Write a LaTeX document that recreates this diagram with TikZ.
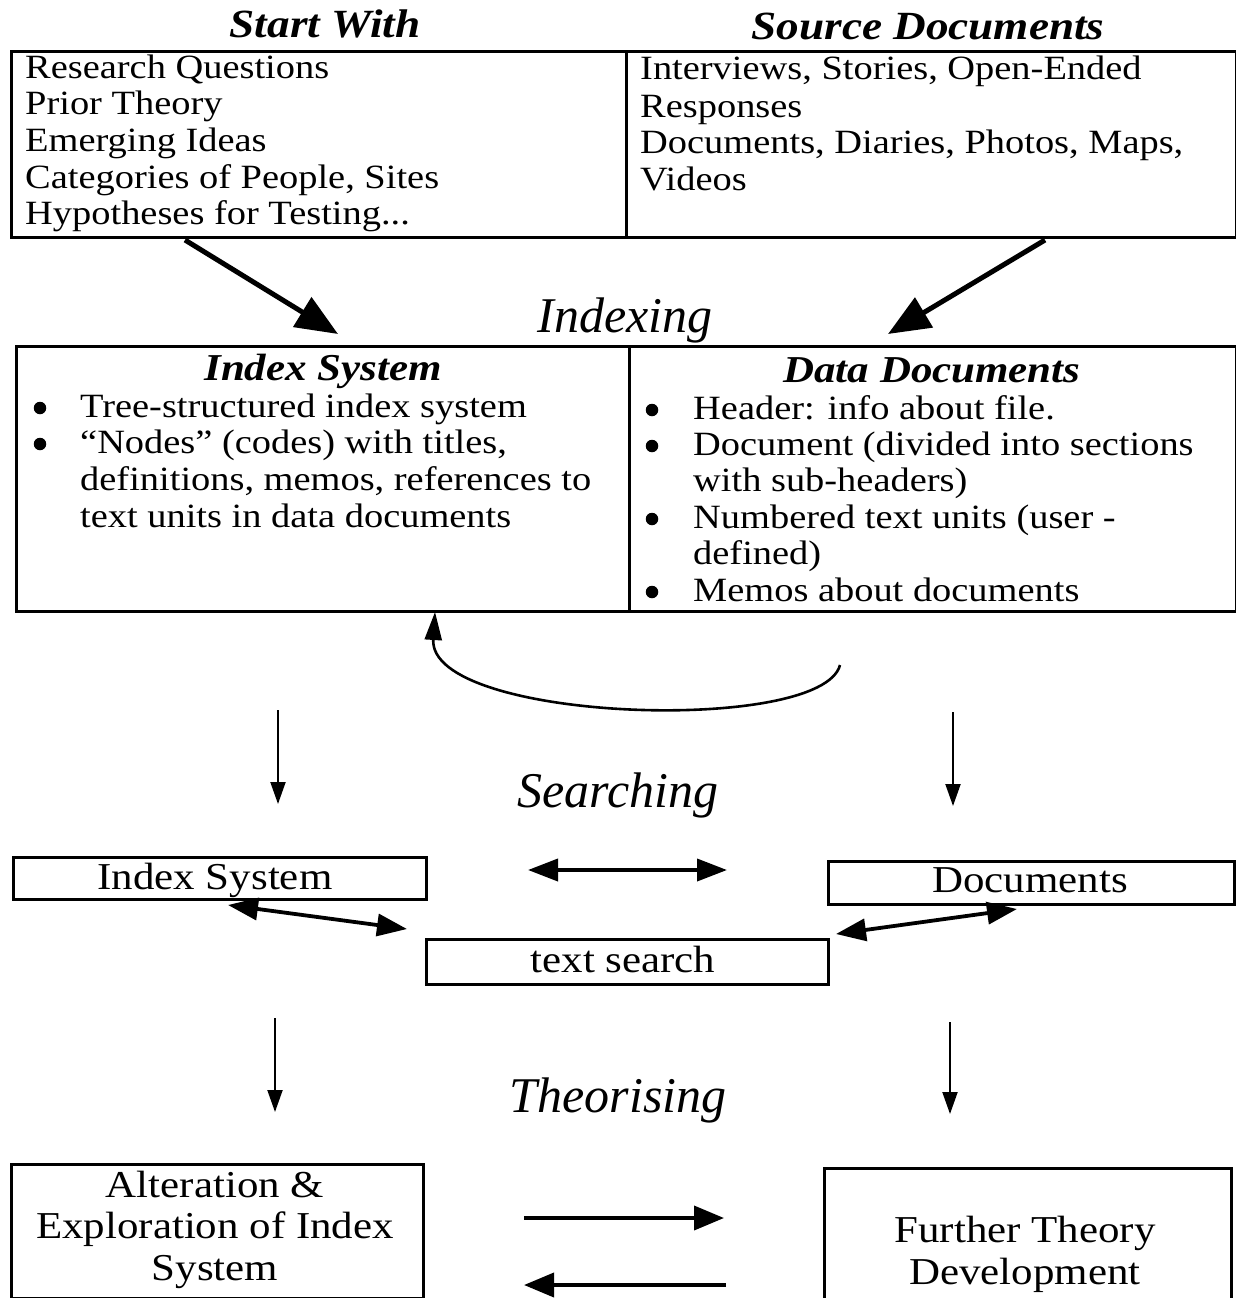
\documentclass[tikz,border=0pt]{standalone}
\usepackage{fontspec}
\setmainfont{Liberation Serif}
\newfontfamily\widefont{Liberation Serif}[FakeStretch=1.13]
\usetikzlibrary{arrows.meta,calc}
\begin{document}
\begin{tikzpicture}[x=1pt,y=-1pt,
  box/.style={draw, line width=2.6pt, inner sep=0pt, anchor=north west},
  heading/.style={anchor=base, inner sep=0pt, font=\widefont\fontsize{40}{44}\selectfont\bfseries\itshape},
  subhead/.style={anchor=base, inner sep=0pt, font=\widefont\fontsize{38}{40}\selectfont\bfseries\itshape},
  stage/.style={anchor=base, inner sep=0pt, font=\fontsize{50}{56}\selectfont\itshape},
  item/.style={anchor=base west, inner sep=0pt, font=\widefont\fontsize{34}{37}\selectfont},
  label/.style={anchor=base, inner sep=0pt, font=\widefont\fontsize{38}{42}\selectfont},
  dot/.style={circle, fill, inner sep=0pt, minimum size=12.5pt},
  bigarrow/.style={line width=5pt, -{Triangle[length=42pt,width=34pt]}},
  twoway/.style={line width=3.8pt, {Triangle[length=30pt,width=22pt]}-{Triangle[length=30pt,width=22pt]}},
  oneway/.style={line width=3.8pt, -{Triangle[length=30pt,width=24pt]}},
  thin/.style={line width=2pt, -{Triangle[length=22pt,width=15pt]}}
]
\useasboundingbox (0,0) rectangle (1236,1298);

% ---- starting material ----
\node[heading] (hstart) at (325,38) {Start With};
\node[heading] (hsource) at (928,40) {Source Documents};
\node[box, minimum width=615pt, minimum height=186pt] (startbox) at (10,50) {};
\node[box, minimum width=610pt, minimum height=186pt] (sourcebox) at (625,50) {};

\node[item] (s1) at (25,78) {Research Questions};
\node[item] (s2) at (25,114.5) {Prior Theory};
\node[item] (s3) at (25,151) {Emerging Ideas};
\node[item] (s4) at (25,188) {Categories of People, Sites};
\node[item] (s5) at (25,224) {Hypotheses for Testing...};

\node[item] (d1) at (640,80) {Interviews, Stories, Open-Ended};
\node[item] (d2) at (640,117) {Responses};
\node[item] (d3) at (640,153) {Documents, Diaries, Photos, Maps,};
\node[item] (d4) at (640,190) {Videos};

% ---- indexing ----
\node[stage] (indexing) at (625,332) {Indexing};
\coordinate (a1s) at (185,240);
\coordinate (a1e) at (338,334);
\coordinate (a2s) at (1045,240);
\coordinate (a2e) at (888,334);
\draw[bigarrow] (a1s) -- (a1e);
\draw[bigarrow] (a2s) -- (a2e);

\node[box, minimum width=613pt, minimum height=265pt] (idxbox) at (15,345) {};
\node[box, minimum width=607pt, minimum height=265pt] (databox) at (628,345) {};

\node[subhead] (hidx) at (323,380) {Index System};
\node[dot] (b1) at (40,408) {};
\node[item] (i1) at (80,417) {Tree-structured index system};
\node[dot] (b2) at (40,444) {};
\node[item] (i2) at (80,453) {“Nodes” (codes) with titles,};
\node[item] (i3) at (80,490) {definitions, memos, references to};
\node[item] (i4) at (80,527) {text units in data documents};

\node[subhead] (hdata) at (932,382) {Data Documents};
\node[dot] (c1) at (652,410) {};
\node[item] (t1) at (693,419) {Header: info about file.};
\node[dot] (c2) at (652,446) {};
\node[item] (t2) at (693,455) {Document (divided into sections};
\node[item] (t3) at (693,491) {with sub-headers)};
\node[dot] (c3) at (652,519) {};
\node[item] (t4) at (693,528) {Numbered text units (user -};
\node[item] (t5) at (693,564) {defined)};
\node[dot] (c4) at (652,592) {};
\node[item] (t6) at (693,601) {Memos about documents};

% feedback loop from data documents back to the index system
\coordinate (loopstart) at (840,665);
\coordinate (looptip) at (435,612);
\draw[line width=2.6pt, -{Triangle[length=28pt,width=17pt]}]
  (loopstart) .. controls (822,735) and (428,722) .. (looptip);

% ---- searching ----
\coordinate (sl1) at (278,710); \coordinate (sl2) at (278,804);
\coordinate (sr1) at (953,712); \coordinate (sr2) at (953,806);
\draw[thin] (sl1) -- (sl2);
\draw[thin] (sr1) -- (sr2);
\node[stage] (searching) at (618,807) {Searching};

\node[box, minimum width=413pt, minimum height=42pt] (sidx) at (12,856) {};
\node[box, minimum width=406pt, minimum height=43pt] (sdoc) at (827,860) {};
\node[box, minimum width=402pt, minimum height=45pt] (stext) at (425,938) {};
\node[label] (lidx) at (215,889) {Index System};
\node[label] (ldoc) at (1030,892) {Documents};
\node[label] (ltext) at (623,972) {text search};

\coordinate (m1) at (528,870); \coordinate (m2) at (727,870);
\draw[twoway] (m1) -- (m2);
\coordinate (p1) at (228,905); \coordinate (p2) at (407,929);
\draw[twoway] (p1) -- (p2);
\coordinate (q1) at (1017,909); \coordinate (q2) at (836,934);
\draw[twoway] (q1) -- (q2);

% ---- theorising ----
\coordinate (tl1) at (275,1018); \coordinate (tl2) at (275,1112);
\coordinate (tr1) at (950,1022); \coordinate (tr2) at (950,1114);
\draw[thin] (tl1) -- (tl2);
\draw[thin] (tr1) -- (tr2);
\node[stage] (theorising) at (618,1112) {Theorising};

\node[box, minimum width=412pt, minimum height=134pt] (alter) at (10,1163) {};
\node[box, minimum width=407pt, minimum height=134pt] (further) at (823,1167) {};
\node[label] (al1) at (215,1197) {Alteration \&};
\node[label] (al2) at (215,1238) {Exploration of Index};
\node[label] (al3) at (215,1280) {System};
\node[label] (fu1) at (1025,1242) {Further Theory};
\node[label] (fu2) at (1025,1284) {Development};

\coordinate (r1) at (524,1218); \coordinate (r2) at (724,1218);
\draw[oneway] (r1) -- (r2);
\coordinate (r3) at (726,1285); \coordinate (r4) at (524,1285);
\draw[oneway] (r3) -- (r4);
\end{tikzpicture}
\end{document}
